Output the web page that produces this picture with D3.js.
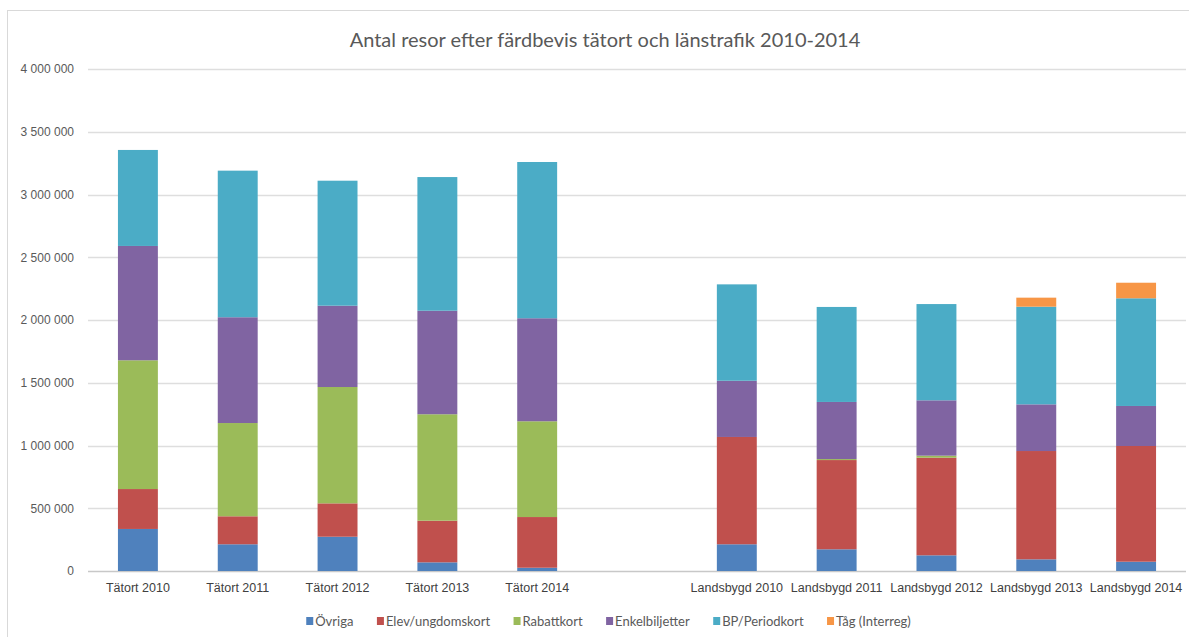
<!DOCTYPE html>
<html>
<head>
<meta charset="utf-8">
<script src="https://cdn.jsdelivr.net/npm/d3@7"></script>
<style>
  body { margin: 0; background: #fff; }
  svg { display: block; font-family: Lato, 'Open Sans', sans-serif; }
</style>
</head>
<body>
<div id="chart"></div>
<script>
// categories (empty slot separates tätort from landsbygd)
const categories = ['Tätort 2010', 'Tätort 2011', 'Tätort 2012', 'Tätort 2013', 'Tätort 2014', '',
  'Landsbygd 2010', 'Landsbygd 2011', 'Landsbygd 2012', 'Landsbygd 2013', 'Landsbygd 2014'];

const seriesNames = ['Övriga', 'Elev/ungdomskort', 'Rabattkort', 'Enkelbiljetter', 'BP/Periodkort', 'Tåg (Interreg)'];

const ovriga     = [335000, 213000, 273000,  69000,  26000, 0, 213000, 173000, 125000,  93000,  74000];
const elev       = [318000, 223000, 266000, 332000, 404000, 0, 855000, 711000, 778000, 863000, 922000];
const rabatt     = [1026000, 743000, 927000, 848000, 763000, 0,     0,   8000,  16000,      0,      0];
const enkel      = [911000, 843000, 648000, 825000, 821000, 0, 448000, 455000, 441000, 372000, 319000];
const periodkort = [765000, 1168000, 996000, 1065000, 1245000, 0, 768000, 757000, 767000, 778000, 858000];
const tag        = [     0,      0,      0,      0,      0, 0,      0,      0,      0,  72000, 124000];

const yTicks = [0, 500000, 1000000, 1500000, 2000000, 2500000, 3000000, 3500000, 4000000];
const colors = ['#4F81BD', '#C0504D', '#9BBB59', '#8064A2', '#4BACC6', '#F79646'];

const width = 1189, height = 637;
const margin = {left: 88, right: 3, top: 69, bottom: 66};

// Build table for d3.stack
const allSeries = [ovriga, elev, rabatt, enkel, periodkort, tag];
const table = categories.map((c, i) => {
  const row = {cat: c};
  seriesNames.forEach((s, j) => { row[s] = allSeries[j][i]; });
  return row;
});

const stacked = d3.stack().keys(seriesNames)(table);

const svg = d3.select('#chart').append('svg')
  .attr('width', width)
  .attr('height', height);

// chart frame
svg.append('rect')
  .attr('x', 7.5).attr('y', 10.5)
  .attr('width', 1200).attr('height', 700)
  .attr('fill', '#fff')
  .attr('stroke', '#d9d9d9');

const x = d3.scaleBand()
  .domain(categories)
  .range([margin.left, width - margin.right])
  .paddingInner(0.6)
  .paddingOuter(0.3);

const y = d3.scaleLinear()
  .domain([0, 4000000])
  .range([height - margin.bottom, margin.top]);

const z = d3.scaleOrdinal().domain(seriesNames).range(colors);

const locale = d3.formatLocale({decimal: ',', thousands: ' ', grouping: [3], currency: ['', '']});
const fmt = locale.format(',');

// Gridlines
svg.append('g')
  .attr('class', 'grid')
  .selectAll('line')
  .data(yTicks)
  .join('line')
  .attr('x1', margin.left)
  .attr('x2', width - margin.right)
  .attr('y1', d => Math.round(y(d)) + 0.5)
  .attr('y2', d => Math.round(y(d)) + 0.5)
  .attr('stroke', d => d === 0 ? '#c8c8c8' : '#dedede')
  .attr('stroke-width', 1.3);

// Y axis labels
const yAxis = svg.append('g')
  .attr('class', 'axis axis-y')
  .attr('transform', 'translate(' + (margin.left - 14) + ',0)')
  .call(d3.axisLeft(y).tickValues(yTicks).tickFormat(fmt).tickSize(0).tickPadding(0));
yAxis.select('.domain').remove();
yAxis.selectAll('text')
  .attr('fill', '#595959')
  .style('font-size', '12px');

// Bars
svg.append('g')
  .attr('class', 'bars')
  .selectAll('g')
  .data(stacked)
  .join('g')
  .attr('fill', d => z(d.key))
  .selectAll('rect')
  .data(d => d.filter(p => p[1] - p[0] > 0))
  .join('rect')
  .attr('x', d => x(d.data.cat))
  .attr('width', x.bandwidth())
  .attr('y', d => y(d[1]))
  .attr('height', d => y(d[0]) - y(d[1]));

// X axis labels
const xAxis = svg.append('g')
  .attr('class', 'axis axis-x')
  .attr('transform', 'translate(0,' + (height - margin.bottom) + ')')
  .call(d3.axisBottom(x).tickSize(0).tickPadding(12));
xAxis.select('.domain').remove();
xAxis.selectAll('text')
  .attr('fill', '#404040')
  .style('font-size', '12.5px');

// Title
svg.append('text')
  .attr('x', 605)
  .attr('y', 47)
  .attr('text-anchor', 'middle')
  .attr('fill', '#595959')
  .style('font-size', '20px')
  .text('Antal resor efter färdbevis tätort och länstrafik 2010-2014');

// Legend, laid out from measured text widths and centred
const legendGap = 23.5;
const legend = svg.append('g')
  .attr('class', 'legend');

const items = legend.selectAll('g')
  .data(seriesNames)
  .join('g');

items.append('rect')
  .attr('x', 0).attr('y', -4)
  .attr('width', 7).attr('height', 8)
  .attr('fill', d => z(d));

items.append('text')
  .attr('x', 9)
  .attr('y', 0)
  .attr('dy', '0.35em')
  .attr('fill', '#595959')
  .style('font-size', '13px')
  .text(d => d);

let offsets = [], cursor = 0;
items.each(function() {
  offsets.push(cursor);
  cursor += 9 + d3.select(this).select('text').node().getComputedTextLength() + legendGap;
});
const legendWidth = cursor - legendGap;
const legendStart = 608.5 - legendWidth / 2;
items.attr('transform', (d, i) => 'translate(' + (legendStart + offsets[i]) + ',621)');
</script>
</body>
</html>
